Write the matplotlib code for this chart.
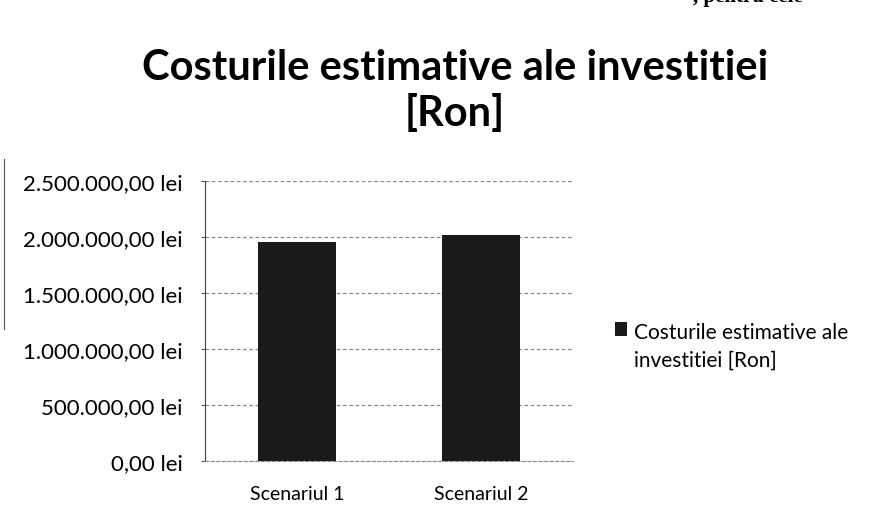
import matplotlib
matplotlib.use("Agg")
import matplotlib.pyplot as plt
from matplotlib.ticker import FuncFormatter
from matplotlib.lines import Line2D

categories = ["Scenariul 1", "Scenariul 2"]
values = [1955000, 2020000]
series_name = "Costurile estimative ale\ninvestitiei [Ron]"
title = "Costurile estimative ale investitiei\n[Ron]"
yticks = [0, 500000, 1000000, 1500000, 2000000, 2500000]
header_fragment = ", pentru cele"

plt.rcParams['font.family'] = ['Lato', 'DejaVu Sans']

W, H = 895, 510
fig = plt.figure(figsize=(W / 100, H / 100), dpi=100)
ax = fig.add_axes([205 / W, 1 - 462 / H, (573 - 205) / W, (462 - 182) / H])

x = list(range(len(categories)))
ax.bar(x, values, width=0.42, color="#1a1a1a", label=series_name, zorder=3)
ax.set_xlim(-0.5, 1.5)
ax.set_ylim(0, 2500000)
ax.set_yticks(yticks)


def fmt(v, pos):
    s = f"{int(v):,}".replace(",", ".")
    return f"{s},00 lei"


ax.yaxis.set_major_formatter(FuncFormatter(fmt))
ax.set_xticks(x)
ax.set_xticklabels(categories, fontsize=14)
ax.tick_params(axis='y', labelsize=16, length=3, pad=13, color="#555555")
ax.tick_params(axis='x', length=0, pad=17)
ax.grid(axis='y', color="#8a8a8a", linestyle=(0, (3, 2)), linewidth=0.9, zorder=0)
for s in ["top", "right"]:
    ax.spines[s].set_visible(False)
ax.spines["left"].set_color("#444444")
ax.spines["left"].set_linestyle((0, (4, 1)))
ax.spines["bottom"].set_color("#8a8a8a")
ax.spines["bottom"].set_linestyle((0, (3, 2)))

fig.text(455 / W, 1 - 91 / H, title, ha="center", va="center", fontsize=30,
         fontweight="bold", linespacing=1.2)

# clipped header text from the scanned page
fig.text(693 / W, 1 - 2 / H, header_fragment, ha="left", va="baseline",
         fontsize=15, family=["Liberation Serif", "DejaVu Serif"], fontweight="bold")

# scanned page edge on the left
fig.add_artist(Line2D([4 / W, 4 / W], [1 - 160 / H, 1 - 330 / H],
                      color="#555555", linewidth=0.8))

leg = fig.legend(loc="center left", bbox_to_anchor=(615 / W, 1 - 347 / H), frameon=False,
                 fontsize=15, handlelength=0.6, handleheight=0.6, handletextpad=0.3,
                 borderaxespad=0, borderpad=0)
for t in leg.get_texts():
    t.set_linespacing(1.45)


def set_top(box):
    for child in getattr(box, "get_children", lambda: [])():
        if type(child).__name__ == "HPacker":
            child.align = "top"
        set_top(child)


try:
    set_top(leg._legend_box)
except Exception:
    pass

fig.savefig("out.png", dpi=100, facecolor="white")
